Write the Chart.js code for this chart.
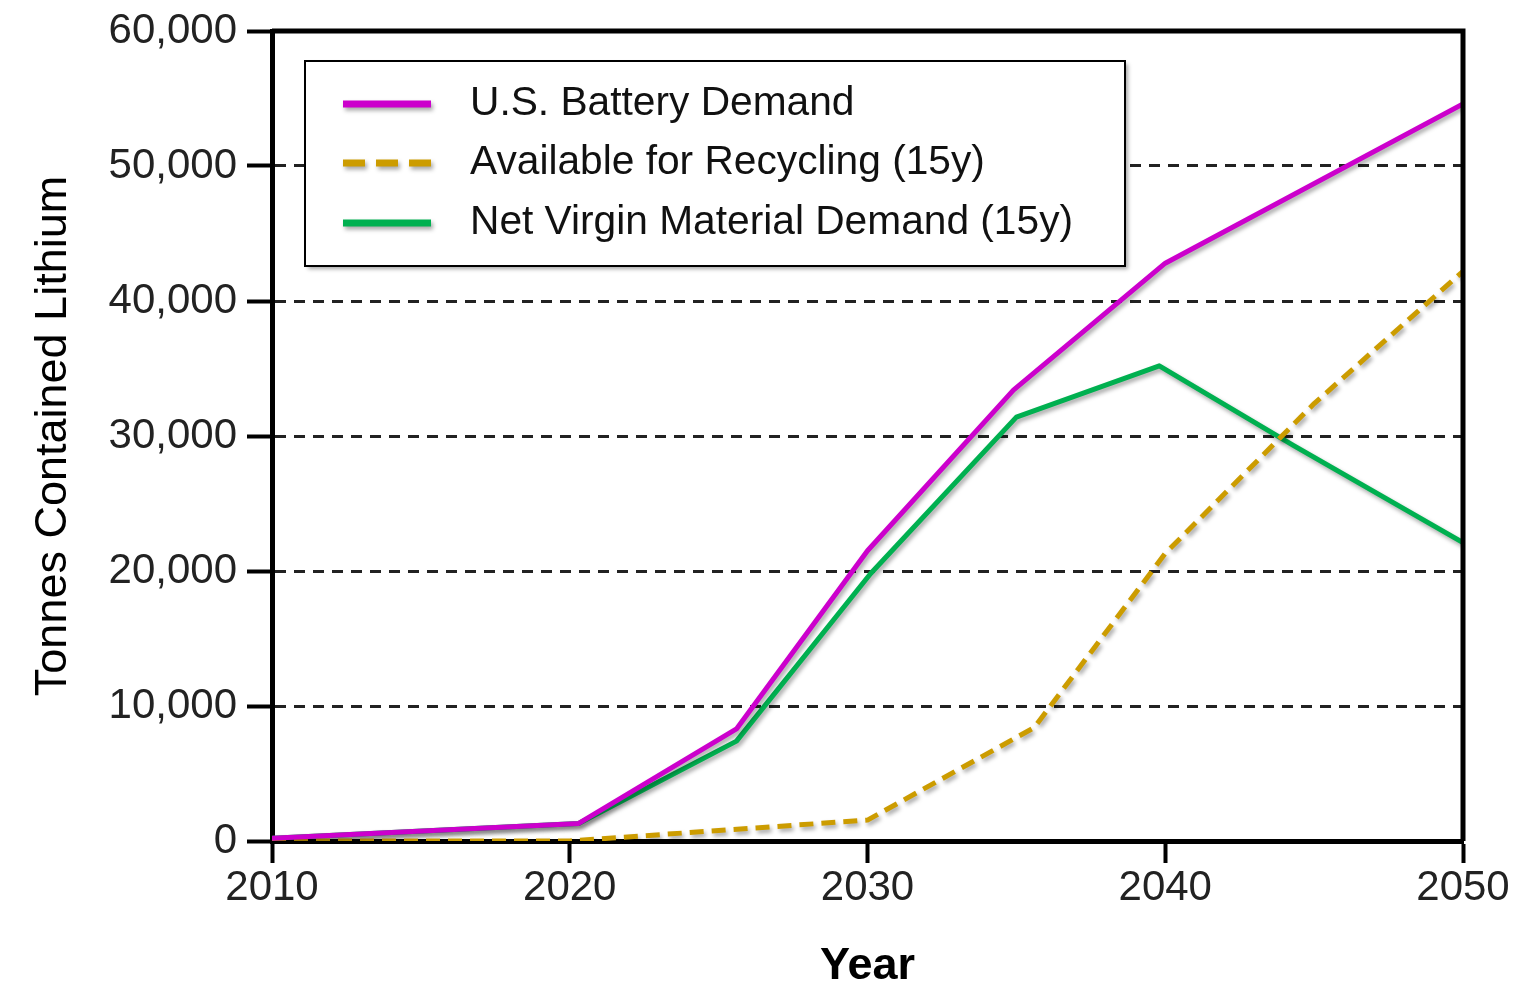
<!DOCTYPE html>
<html>
<head>
<meta charset="utf-8">
<title>Lithium demand</title>
<script src="https://cdn.jsdelivr.net/npm/chart.js@4"></script>
<style>
    html, body { margin: 0; padding: 0; background: #fff; }
    #wrap { position: relative; width: 1526px; height: 985px; }
</style>
</head>
<body>
<div id="wrap"><canvas id="chart"></canvas></div>
<script>
// Data (tonnes contained lithium)
const batteryYears = [2010, 2020.3, 2025.6, 2030, 2034.9, 2040, 2050];
const batteryDemand = [200, 1300, 8300, 21500, 33400, 42800, 54600];

const recycleYears = [2010, 2020, 2030, 2035.6, 2040, 2045, 2050];
const recycleAvail = [0, 0, 1550, 8400, 21300, 32400, 42200];

const virginYears = [2010, 2020.3, 2025.6, 2030.1, 2035, 2039.8, 2044.3, 2050];
const virginDemand = [200, 1300, 7400, 19800, 31400, 35200, 29300, 22100];

const yearTicks = [2010, 2020, 2030, 2040, 2050];
const tonneTicks = [0, 10000, 20000, 30000, 40000, 50000, 60000];

const FONT = '"Liberation Sans", Arial, sans-serif';

function toPoints(xs, ys) {
    return xs.map((x, i) => ({ x: x, y: ys[i] }));
}

// Drop shadow under the lines
const shadowPlugin = {
    id: 'shadow',
    beforeDatasetDraw(chart) {
        const ctx = chart.ctx;
        ctx.save();
        ctx.shadowColor = 'rgba(0,0,0,0.35)';
        ctx.shadowBlur = 4;
        ctx.shadowOffsetX = 2;
        ctx.shadowOffsetY = 3;
    },
    afterDatasetDraw(chart) {
        chart.ctx.restore();
    }
};

// Top and right frame lines
const framePlugin = {
    id: 'frame',
    afterDatasetsDraw(chart) {
        const ctx = chart.ctx, a = chart.chartArea;
        ctx.save();
        ctx.strokeStyle = '#000';
        ctx.lineWidth = 5;
        ctx.beginPath();
        ctx.moveTo(a.left, a.top);
        ctx.lineTo(a.right, a.top);
        ctx.lineTo(a.right, a.bottom);
        ctx.stroke();
        ctx.restore();
    }
};

// Boxed legend in the upper left of the plot
const boxLegend = {
    id: 'boxLegend',
    afterDraw(chart) {
        const ctx = chart.ctx, a = chart.chartArea;
        const x = a.left + 33, y = a.top + 30, w = 820, h = 205;
        const rows = [43, 102, 162];
        ctx.save();
        ctx.shadowColor = 'rgba(0,0,0,0.35)';
        ctx.shadowBlur = 4;
        ctx.shadowOffsetX = 3;
        ctx.shadowOffsetY = 3;
        ctx.fillStyle = '#fff';
        ctx.fillRect(x, y, w, h);
        ctx.shadowColor = 'rgba(0,0,0,0)';
        ctx.strokeStyle = '#000';
        ctx.lineWidth = 2;
        ctx.strokeRect(x, y, w, h);

        chart.data.datasets.forEach((ds, i) => {
            const ly = y + rows[i];
            ctx.save();
            ctx.shadowColor = 'rgba(0,0,0,0.35)';
            ctx.shadowBlur = 4;
            ctx.shadowOffsetX = 2;
            ctx.shadowOffsetY = 3;
            ctx.strokeStyle = ds.borderColor;
            ctx.lineWidth = 7;
            ctx.setLineDash(ds.borderDash ? [22, 11] : []);
            ctx.beginPath();
            ctx.moveTo(x + 38, ly);
            ctx.lineTo(x + 126, ly);
            ctx.stroke();
            ctx.restore();

            ctx.fillStyle = '#111';
            ctx.font = '40.7px ' + FONT;
            ctx.textBaseline = 'middle';
            ctx.fillText(ds.label, x + 165, ly);
        });
        ctx.restore();
    }
};

function initializeChart() {
    const ctx = document.getElementById('chart').getContext('2d');
    new Chart(ctx, {
        type: 'line',
        data: {
            datasets: [{
                label: 'U.S. Battery Demand',
                data: toPoints(batteryYears, batteryDemand),
                borderColor: '#CC00CC',
                borderWidth: 5,
            }, {
                label: 'Available for Recycling (15y)',
                data: toPoints(recycleYears, recycleAvail),
                borderColor: '#CC9C00',
                borderWidth: 5,
                borderDash: [14, 8],
            }, {
                label: 'Net Virgin Material Demand (15y)',
                data: toPoints(virginYears, virginDemand),
                borderColor: '#00B050',
                borderWidth: 5,
            }],
        },
        options: {
            responsive: true,
            maintainAspectRatio: false,
            animation: false,
            devicePixelRatio: 1,
            layout: { padding: { top: 31, right: 63, bottom: 0, left: 0 } },
            elements: {
                point: { radius: 0, hoverRadius: 0 },
                line: { tension: 0, borderJoinStyle: 'round' },
            },
            plugins: {
                legend: { display: false },
                tooltip: { enabled: false },
            },
            scales: {
                x: {
                    type: 'linear',
                    min: 2010,
                    max: 2050,
                    afterFit: s => { s.height = 144; },
                    afterBuildTicks: s => { s.ticks = yearTicks.map(v => ({ value: v })); },
                    ticks: {
                        callback: v => String(v),
                        font: { family: FONT, size: 42 },
                        color: '#222',
                        padding: 0,
                        maxRotation: 0,
                    },
                    grid: {
                        drawOnChartArea: false,
                        drawTicks: true,
                        tickLength: 22,
                        tickWidth: 4,
                        tickColor: '#000',
                    },
                    border: { display: true, color: '#000', width: 5 },
                    title: {
                        display: true,
                        text: 'Year',
                        color: '#000',
                        font: { family: FONT, size: 45, weight: 'bold', lineHeight: 0.8 },
                        padding: { top: -2, bottom: 0 },
                    },
                },
                y: {
                    min: 0,
                    max: 60000,
                    afterFit: s => { s.width = 272; s.paddingTop = 0; s.paddingBottom = 0; },
                    afterBuildTicks: s => { s.ticks = tonneTicks.map(v => ({ value: v })); },
                    ticks: {
                        callback: v => v.toLocaleString('en-US'),
                        font: { family: FONT, size: 42 },
                        color: '#222',
                        padding: 10,
                    },
                    grid: {
                        color: c => (c.tick && (c.tick.value === 0 || c.tick.value === 60000)) ? 'rgba(0,0,0,0)' : '#222',
                        lineWidth: 3,
                        drawTicks: true,
                        tickLength: 25,
                        tickWidth: 4,
                        tickColor: '#000',
                    },
                    border: { display: true, color: '#000', width: 5, dash: [11, 8] },
                    title: {
                        display: true,
                        text: 'Tonnes Contained Lithium',
                        color: '#000',
                        font: { family: FONT, size: 45 },
                        padding: { top: 27, bottom: 0 },
                    },
                },
            },
        },
        plugins: [shadowPlugin, framePlugin, boxLegend],
    });
}

document.addEventListener('DOMContentLoaded', () => {
    initializeChart();
});
</script>
</body>
</html>
